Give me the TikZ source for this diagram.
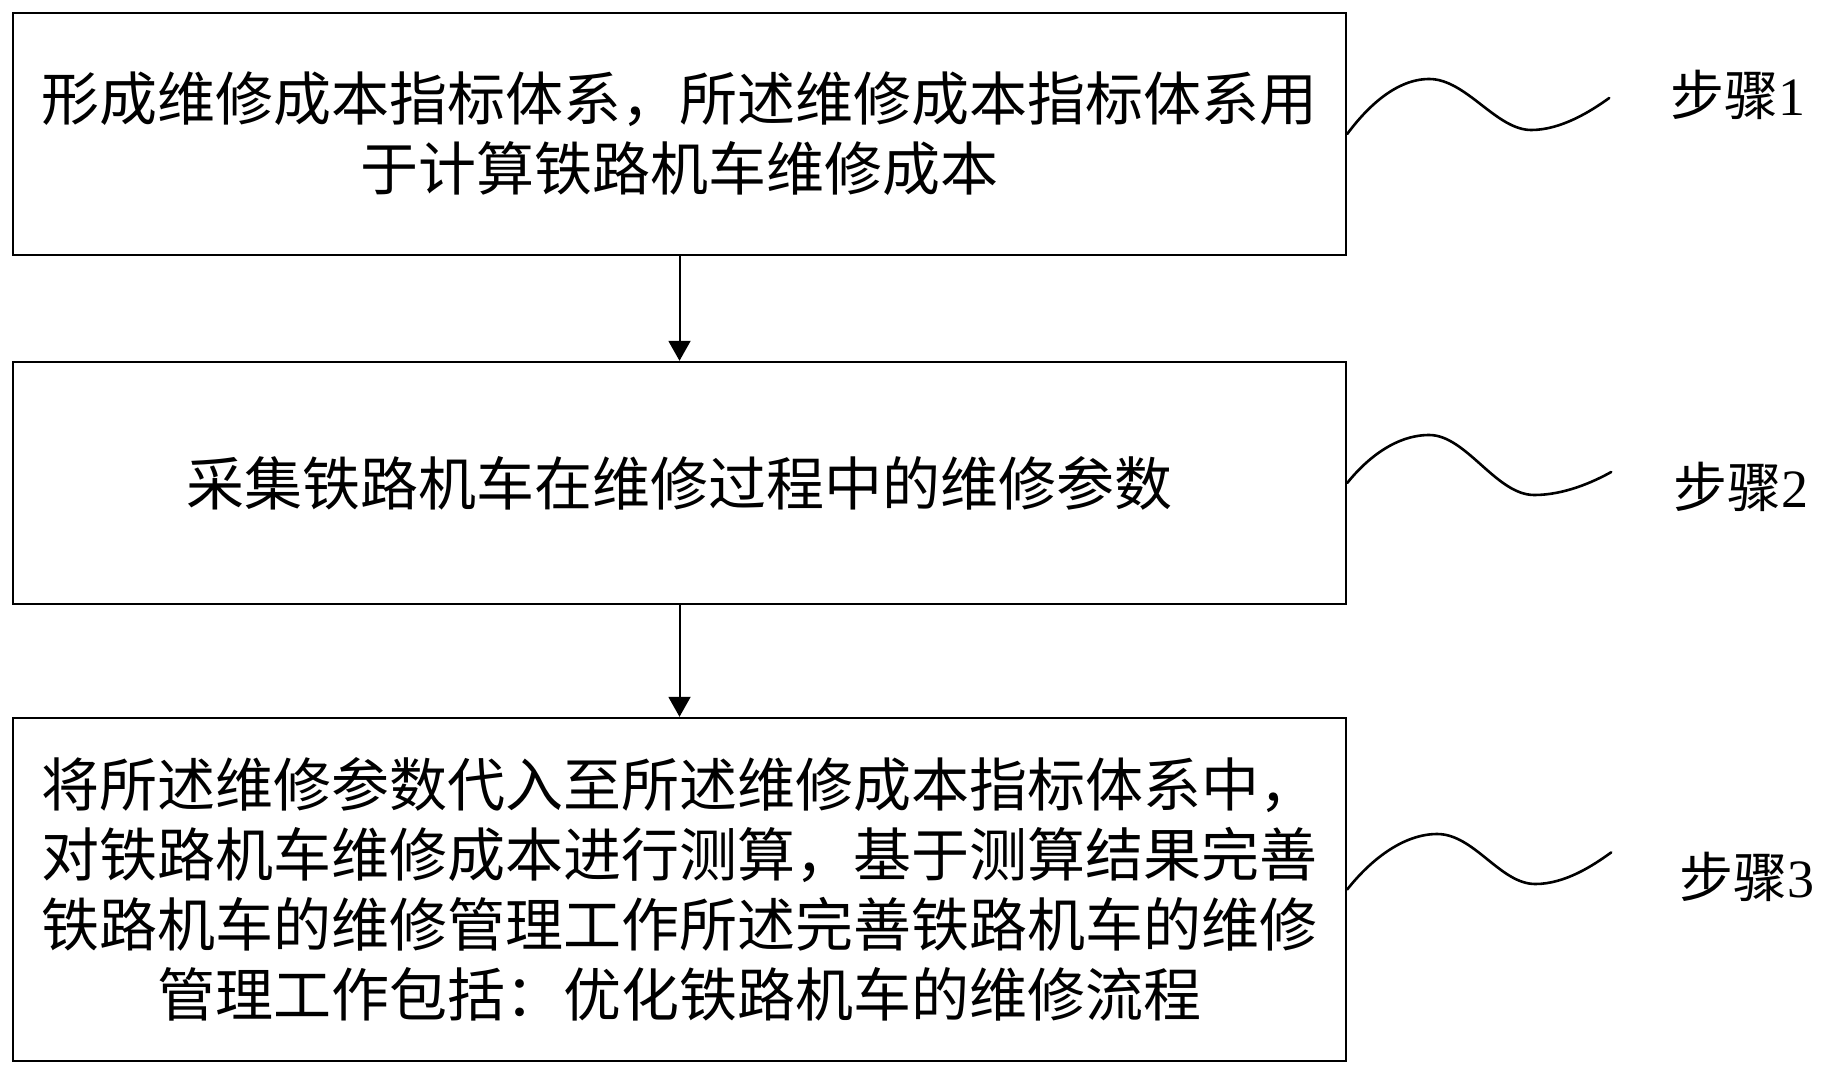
\documentclass[tikz,border=0pt]{standalone}
\usepackage{fontspec}
\setmainfont{Liberation Serif}
\newfontfamily\cjk{Noto Sans CJK SC}
\usetikzlibrary{arrows.meta}
\begin{document}
\begin{tikzpicture}[x=1pt,y=-1pt,
 box/.style={draw,line width=2.4pt,minimum width=1333pt,inner sep=0pt,align=center,font=\cjk\fontsize{58}{70}\selectfont},
 arr/.style={line width=2pt,-{Triangle[width=22pt,length=20pt]}},
 wave/.style={line width=2.6pt,line cap=round},
 lab/.style={font=\fontsize{54}{60}\selectfont,inner sep=0pt}]
\useasboundingbox[fill=white] (0,0) rectangle (1830,1076);
\node[box,minimum height=242pt] (b1) at (679.5,134) {形成维修成本指标体系，所述维修成本指标体系用\\于计算铁路机车维修成本};
\node[box,minimum height=242pt] (b2) at (679.5,483) {采集铁路机车在维修过程中的维修参数};
\node[box,minimum height=343pt] (b3) at (679.5,889.5) {将所述维修参数代入至所述维修成本指标体系中，\\对铁路机车维修成本进行测算，基于测算结果完善\\铁路机车的维修管理工作所述完善铁路机车的维修\\管理工作包括：优化铁路机车的维修流程};
\draw[arr] (b1.south) -- (b2.north);
\draw[arr] (b2.south) -- (b3.north);
\node[lab] (s1) at (1738,95) {{\cjk 步骤}1};
\node[lab] (s2) at (1741,487) {{\cjk 步骤}2};
\node[lab] (s3) at (1747,877) {{\cjk 步骤}3};
\draw[wave] (b1.east) .. controls +(20,-27) and +(-33,0) .. ++(82,-55) .. controls +(37,0) and +(-35,0) .. ++(102,51) .. controls +(30,0) and +(-18,13) .. ++(78,-32) coordinate (w1);
\draw[wave] (b2.east) .. controls +(20,-25) and +(-33,0) .. ++(82,-48) .. controls +(37,0) and +(-38,0) .. ++(105,60) .. controls +(30,0) and +(-18,10) .. ++(77,-23) coordinate (w2);
\draw[wave] (b3.east) .. controls +(22,-28) and +(-35,0) .. ++(90,-55.5) .. controls +(37,0) and +(-35,0) .. ++(98,50) .. controls +(30,0) and +(-18,13) .. ++(76,-31.6) coordinate (w3);
\end{tikzpicture}
\end{document}
